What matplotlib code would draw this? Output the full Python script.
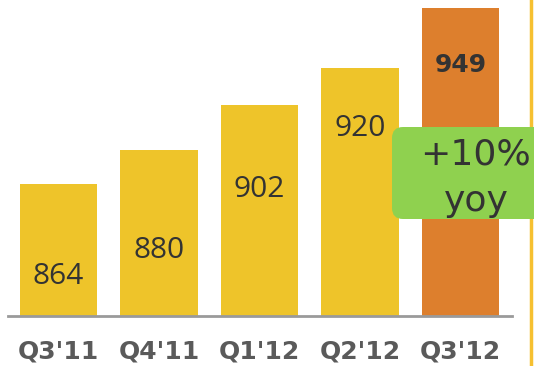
import matplotlib
matplotlib.use("Agg")
import matplotlib.pyplot as plt
from matplotlib.patches import FancyBboxPatch
from matplotlib.lines import Line2D
from matplotlib.transforms import IdentityTransform

# Quarterly values
quarters = ["Q3'11", "Q4'11", "Q1'12", "Q2'12", "Q3'12"]
values = [864, 880, 902, 920, 949]
growth_lines = ["+10%", "yoy"]

# Styling
bar_colors = ["#EEC42A", "#EEC42A", "#EEC42A", "#EEC42A", "#DD7F2D"]
label_drop = [100, 108, 92, 68, 64]      # px from bar top down to label baseline
label_weights = ["normal"] * 4 + ["bold"]

W, H, DPI = 534, 366, 100
PT = 72.0 / DPI   # points per pixel
fig = plt.figure(figsize=(W / DPI, H / DPI), dpi=DPI)
fig.patch.set_facecolor("white")

# axes in pixel units: baseline from x=8 to x=512, at y=316 from the top
ax_left, ax_right = 8, 512
ax_bottom_px, ax_top_px = 316, 0
ax = fig.add_axes([ax_left / W, (H - ax_bottom_px) / H,
                   (ax_right - ax_left) / W, (ax_bottom_px - ax_top_px) / H])

spacing_px = 100.5
first_center = 58.5
x0 = -(first_center - ax_left) / spacing_px
ax.set_xlim(x0, x0 + (ax_right - ax_left) / spacing_px)
ymin = 800
px_per_unit = 2.07
ax.set_ylim(ymin, ymin + (ax_bottom_px - ax_top_px) / px_per_unit)

xs = list(range(len(values)))
ax.bar(xs, [v - ymin for v in values], bottom=ymin, width=0.77,
       color=bar_colors, edgecolor="none", zorder=2)

for s in ["top", "right", "left"]:
    ax.spines[s].set_visible(False)
ax.spines["bottom"].set_color("#9A9A9A")
ax.spines["bottom"].set_linewidth(2)
ax.set_yticks([])
ax.set_xticks([])

# value labels inside the bars
for x, v, drop, w in zip(xs, values, label_drop, label_weights):
    if w == "normal":
        kw = dict(family="Open Sans", fontsize=21.5)
    else:
        kw = dict(family="DejaVu Sans", fontsize=18, fontweight="bold")
    ax.annotate(str(v), xy=(x, v), xytext=(0, -drop * PT),
                textcoords="offset points", ha="center", va="baseline",
                color="#333333", zorder=3, **kw)

# category labels below the baseline
for x, q in zip(xs, quarters):
    ax.annotate(q, xy=(x, 0), xycoords=("data", "axes fraction"),
                xytext=(0, -(359 - ax_bottom_px) * PT), textcoords="offset points",
                ha="center", va="baseline", family="DejaVu Sans",
                fontweight="bold", fontsize=18, color="#5A5A5A",
                annotation_clip=False)

# vertical accent line on the right edge
fig.add_artist(Line2D([531 / W, 531 / W], [0, 1], color="#F6C030",
                      linewidth=2.5, transform=fig.transFigure))

# growth callout box (pixel coordinates)
bx0, by0, bx1, by1 = 392, 127, 550, 219
box = FancyBboxPatch((bx0, H - by1), bx1 - bx0, by1 - by0,
                     boxstyle="round,pad=0,rounding_size=11",
                     transform=IdentityTransform(), facecolor="#8FD14F",
                     edgecolor="none", zorder=5)
fig.add_artist(box)
for line, base_y in zip(growth_lines, [165, 211]):
    fig.text(476 / W, (H - base_y) / H, line, ha="center", va="baseline",
             family="DejaVu Sans", fontsize=26, color="#333333", zorder=6)

fig.savefig("out.png", dpi=DPI, facecolor="white")
